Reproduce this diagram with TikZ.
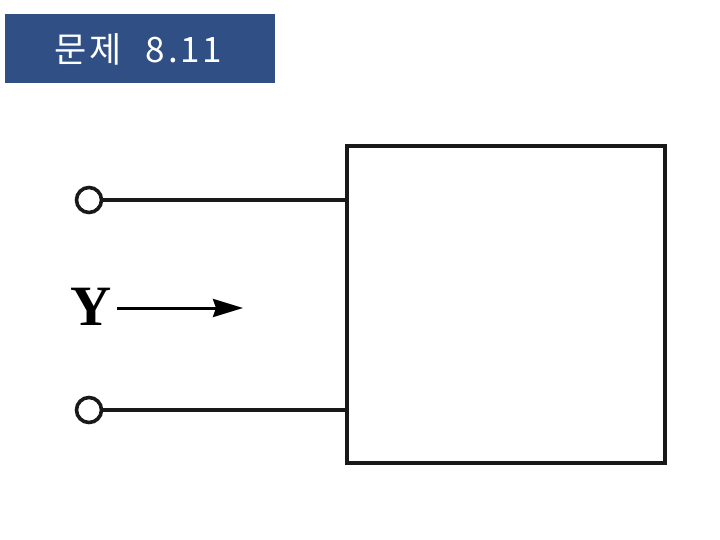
\documentclass[tikz,border=0pt]{standalone}
\usepackage{fontspec}
\newfontfamily\krfont[LetterSpace=8]{Noto Sans CJK KR}
\newfontfamily\yfont{Liberation Serif}
\usetikzlibrary{arrows.meta}
\definecolor{titleblue}{RGB}{47,79,133}
\tikzset{
  wire/.style={line width=4.2pt, black!90},
  terminal/.style={circle, draw=black!90, line width=3.6pt, fill=white, minimum size=25pt, inner sep=0pt},
  blk/.style={draw=black!90, line width=4.6pt, fill=white, inner sep=0pt},
  titletext/.style={text=white, font=\krfont\fontsize{35}{35}\selectfont, inner sep=0pt}
}
\begin{document}
\begin{tikzpicture}[x=1pt,y=-1pt]
\useasboundingbox (0,0) rectangle (720,540);
\fill[white] (0,0) rectangle (720,540);
% title
\node[fill=titleblue, minimum width=270pt, minimum height=69pt, inner sep=0pt] (title) at (140,48.5) {};
\node[titletext] (titletext) at (138.5,49) {문제\hspace{24pt}8.11};
% block
\node[blk, minimum width=318pt, minimum height=317pt] (box) at (506,304.5) {};
% terminals
\node[terminal] (t1) at (89,200) {};
\node[terminal] (t2) at (89,410) {};
\coordinate (b1) at (box.west |- t1);
\coordinate (b2) at (box.west |- t2);
\draw[wire] (t1) -- (b1);
\draw[wire] (t2) -- (b2);
% Y label and arrow
\node[font=\yfont\bfseries\fontsize{57}{57}\selectfont, inner sep=0pt, anchor=base] (Y) at (91,325) {Y};
\coordinate (astart) at (117,308);
\coordinate (aend) at (243,308);
\draw[line width=3pt, -{Stealth[length=30pt, width=18pt, inset=3pt]}] (astart) -- (aend);
\end{tikzpicture}
\end{document}
